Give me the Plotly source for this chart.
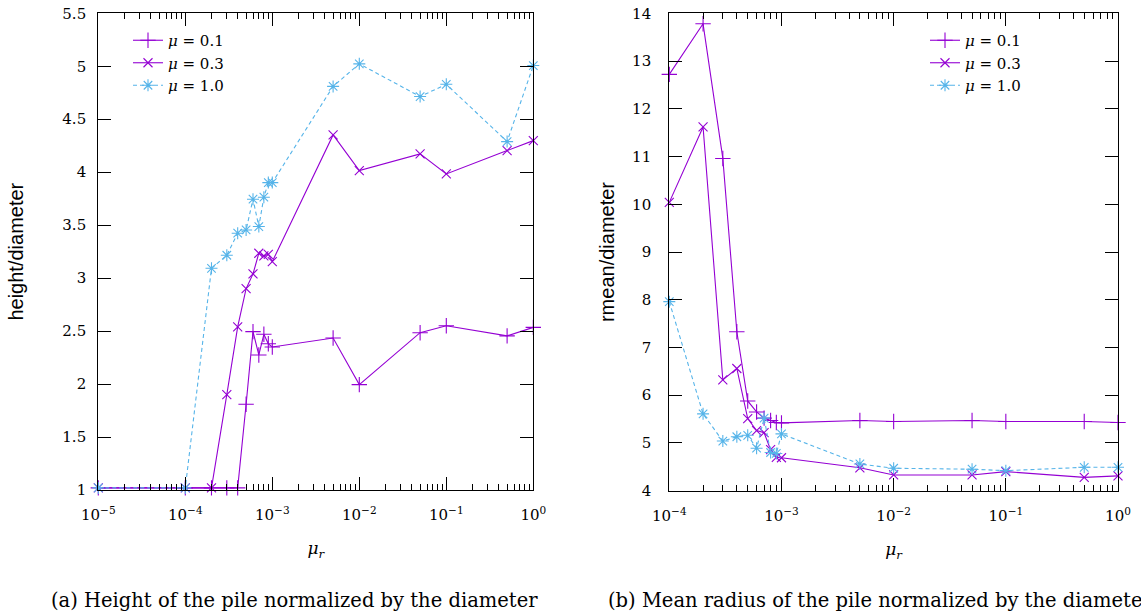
import plotly.graph_objects as go

# ---------------- data ----------------
x_left = [1e-5, 1e-4, 2e-4, 3e-4, 4e-4, 5e-4, 6e-4, 7e-4, 8e-4, 9e-4, 1e-3,
          5e-3, 1e-2, 5e-2, 1e-1, 5e-1, 1.0]
h_mu01 = [1.02, 1.02, 1.02, 1.02, 1.02, 1.81, 2.495, 2.275, 2.47, 2.38, 2.35,
          2.435, 1.995, 2.485, 2.55, 2.455, 2.535]
h_mu03 = [1.02, 1.02, 1.02, 1.90, 2.54, 2.90, 3.04, 3.235, 3.21, 3.225, 3.156,
          4.352, 4.015, 4.173, 3.984, 4.204, 4.298]
h_mu10 = [1.02, 1.02, 3.093, 3.216, 3.424, 3.455, 3.745, 3.487, 3.764, 3.902, 3.902,
          4.81, 5.023, 4.714, 4.83, 4.289, 5.007]

x_right = [1e-4, 2e-4, 3e-4, 4e-4, 5e-4, 6e-4, 7e-4, 8e-4, 9e-4, 1e-3,
           5e-3, 1e-2, 5e-2, 1e-1, 5e-1, 1.0]
r_mu01 = [12.72, 13.78, 10.96, 7.33, 5.88, 5.65, 5.52, 5.47, 5.43, 5.42,
          5.47, 5.45, 5.47, 5.45, 5.45, 5.43]
r_mu03 = [10.04, 11.62, 6.32, 6.56, 5.51, 5.26, 5.215, 4.86, 4.70, 4.69,
          4.48, 4.33, 4.33, 4.40, 4.28, 4.31]
r_mu10 = [7.96, 5.61, 5.04, 5.13, 5.16, 4.89, 5.52, 4.80, 4.78, 5.19,
          4.56, 4.47, 4.45, 4.42, 4.49, 4.49]

series_names = ["<i>μ</i> = 0.1", "<i>μ</i> = 0.3", "<i>μ</i> = 1.0"]
left_exps = [-5, -4, -3, -2, -1, 0]
right_exps = [-4, -3, -2, -1, 0]
caption_a = "(a) Height of the pile normalized by the diameter"
caption_b = "(b) Mean radius of the pile normalized by the diameter"

# ---------------- styles ----------------
PURPLE = "#9400D3"
BLUE = "#56B4E9"
SERIF = "DejaVu Serif"
SANS = "Liberation Sans"
styles = [
    dict(line=dict(color=PURPLE, width=1.1),
         marker=dict(symbol="cross-thin", size=11, line=dict(color=PURPLE, width=1.1))),
    dict(line=dict(color=PURPLE, width=1.1),
         marker=dict(symbol="x-thin", size=9, line=dict(color=PURPLE, width=1.1))),
    dict(line=dict(color=BLUE, width=1.1, dash="4px,3px"),
         marker=dict(symbol="asterisk", size=10, line=dict(color=BLUE, width=1.1))),
]

fig = go.Figure()
for name, ys, st in zip(series_names, [h_mu01, h_mu03, h_mu10], styles):
    fig.add_trace(go.Scatter(x=x_left, y=ys, mode="lines+markers", name=name,
                             xaxis="x", yaxis="y", legend="legend",
                             cliponaxis=False, **st))
for name, ys, st in zip(series_names, [r_mu01, r_mu03, r_mu10], styles):
    fig.add_trace(go.Scatter(x=x_right, y=ys, mode="lines+markers", name=name,
                             xaxis="x2", yaxis="y2", legend="legend2",
                             cliponaxis=False, **st))


def minor_vals(exps):
    return [k * 10.0 ** e for e in exps[:-1] for k in range(2, 10)]


W, H = 1141, 616


def fx(px):
    return px / W


def fy(py):
    return 1 - py / H


axis_common = dict(showgrid=False, zeroline=False, showline=True, linecolor="black",
                   linewidth=1.2, mirror="ticks", ticks="inside", ticklen=13,
                   tickwidth=1, tickcolor="black", automargin=False,
                   ticklabeloverflow="allow",
                   tickfont=dict(family=SERIF, size=15, color="black"))

fig.update_layout(
    width=W, height=H, margin=dict(l=0, r=0, t=0, b=0, autoexpand=False),
    paper_bgcolor="white", plot_bgcolor="white",
    font=dict(family=SERIF, color="black"),
    xaxis=dict(type="log", domain=[fx(98.3), fx(533.3)], range=[-5, 0],
               tickvals=[10.0 ** e for e in left_exps],
               ticktext=[f"10<sup>{'−' if e < 0 else ''}{abs(e)}</sup>" for e in left_exps],
               minor=dict(tickvals=minor_vals(left_exps), ticks="inside", ticklen=6,
                          tickcolor="black", showgrid=False),
               ticklabelstandoff=11,
               title=dict(text="<i>μ</i><sub><i>r</i></sub>", standoff=19,
                          font=dict(family=SERIF, size=17, color="black")),
               anchor="y", **axis_common),
    yaxis=dict(domain=[fy(490), fy(13.3)], range=[1, 5.5], dtick=0.5,
               tick0=1, ticklabelstandoff=8,
               title=dict(text="height/diameter", standoff=33,
                          font=dict(family=SANS, size=20, color="black")),
               anchor="x", **axis_common),
    xaxis2=dict(type="log", domain=[fx(669.3), fx(1118)], range=[-4, 0],
                tickvals=[10.0 ** e for e in right_exps],
                ticktext=[f"10<sup>{'−' if e < 0 else ''}{abs(e)}</sup>" for e in right_exps],
                minor=dict(tickvals=minor_vals(right_exps), ticks="inside", ticklen=6,
                           tickcolor="black", showgrid=False),
                ticklabelstandoff=11,
                title=dict(text="<i>μ</i><sub><i>r</i></sub>", standoff=19,
                           font=dict(family=SERIF, size=17, color="black")),
                anchor="y2", **axis_common),
    yaxis2=dict(domain=[fy(490.7), fy(13.3)], range=[4, 14], dtick=1,
                tick0=4, ticklabelstandoff=14,
                title=dict(text="rmean/diameter", standoff=12,
                           font=dict(family=SANS, size=20, color="black")),
                anchor="x2", **axis_common),
    legend=dict(x=fx(128), y=fy(24), xanchor="left", yanchor="top",
                bgcolor="rgba(0,0,0,0)", font=dict(family=SERIF, size=15, color="black"),
                tracegroupgap=0),
    legend2=dict(x=fx(925), y=fy(24), xanchor="left", yanchor="top",
                 bgcolor="rgba(0,0,0,0)", font=dict(family=SERIF, size=15, color="black"),
                 tracegroupgap=0),
    annotations=[
        dict(text=caption_a, xref="paper", yref="paper", x=fx(49), y=fy(600),
             xanchor="left", yanchor="middle", showarrow=False,
             font=dict(family=SERIF, size=19.5, color="black")),
        dict(text=caption_b, xref="paper", yref="paper", x=fx(606), y=fy(600),
             xanchor="left", yanchor="middle", showarrow=False,
             font=dict(family=SERIF, size=19.5, color="black")),
    ],
)

# remove the default 8px page margin so the figure sits at the window origin
fig.write_html("out.html", config={"displayModeBar": False},
               post_script="document.body.style.margin='0';")
